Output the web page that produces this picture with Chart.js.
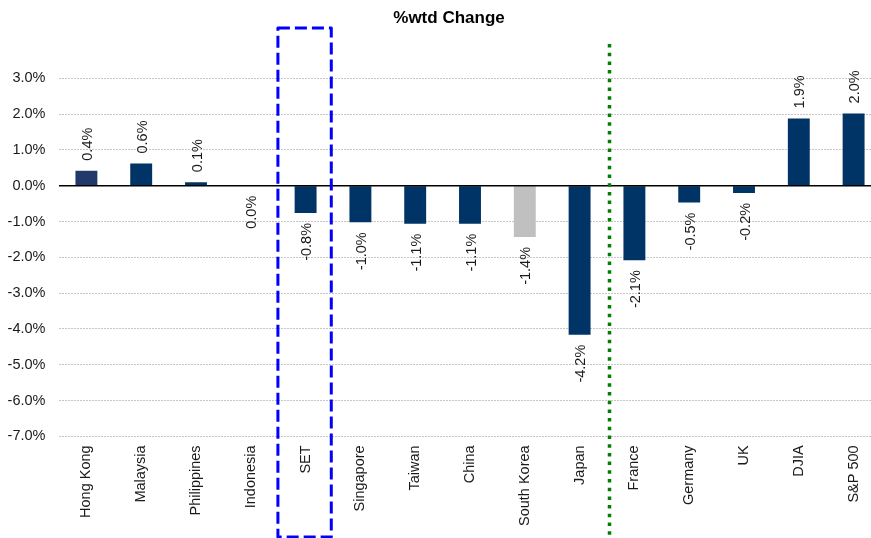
<!DOCTYPE html>
<html>
<head>
<meta charset="utf-8">
<title>%wtd Change</title>
<script src="https://cdn.jsdelivr.net/npm/chart.js@4.4.1/dist/chart.umd.min.js"></script>
<style>
  html, body { margin: 0; padding: 0; background: #ffffff; overflow: hidden; }
  #wrap { position: relative; width: 881px; height: 538px; }
</style>
</head>
<body>
<div id="wrap"><canvas id="chart"></canvas></div>
<script>
// Week-to-date change by market, in percent
const markets = ['Hong Kong', 'Malaysia', 'Philippines', 'Indonesia', 'SET', 'Singapore',
  'Taiwan', 'China', 'South Korea', 'Japan', 'France', 'Germany', 'UK', 'DJIA', 'S&P 500'];
const wtdChange = [0.42, 0.62, 0.10, 0.0, -0.76, -1.02, -1.06, -1.06, -1.43, -4.16,
  -2.08, -0.47, -0.20, 1.88, 2.02];
const barColors = ['#21386a', '#003366', '#003366', '#003366', '#003366', '#003366',
  '#003366', '#003366', '#c0c0c0', '#003366', '#003366', '#003366', '#003366', '#003366', '#003366'];
const yTicks = [3, 2, 1, 0, -1, -2, -3, -4, -5, -6, -7];
const chartTitle = '%wtd Change';

const FONT = '"Liberation Sans", Arial, "DejaVu Sans", sans-serif';
const fmt = v => v.toFixed(1) + '%';

// Title, rotated value labels, zero line, SET highlight box and region divider
const overlay = {
  id: 'overlay',
  afterDatasetsDraw(chart) {
    const { ctx, chartArea, scales: { x, y } } = chart;
    const meta = chart.getDatasetMeta(0);

    // title
    ctx.save();
    ctx.font = 'bold 17px ' + FONT;
    ctx.fillStyle = '#000000';
    ctx.textAlign = 'center';
    ctx.textBaseline = 'middle';
    ctx.fillText(chartTitle, chart.width / 2 + 8.5, 18.5);
    ctx.restore();

    // zero baseline
    const y0 = y.getPixelForValue(0);
    ctx.save();
    ctx.strokeStyle = '#000000';
    ctx.lineWidth = 1.5;
    ctx.beginPath();
    ctx.moveTo(chartArea.left, y0);
    ctx.lineTo(chart.width, y0);
    ctx.stroke();
    ctx.restore();

    // value labels
    ctx.save();
    ctx.font = '14.5px ' + FONT;
    ctx.fillStyle = '#1a1a1a';
    ctx.textBaseline = 'middle';
    meta.data.forEach((bar, i) => {
      const v = wtdChange[i];
      const gap = 10;
      ctx.save();
      ctx.translate(bar.x + 1.5, y.getPixelForValue(v) + (v > 0 ? -gap : gap));
      ctx.rotate(-Math.PI / 2);
      ctx.textAlign = v > 0 ? 'left' : 'right';
      ctx.fillText(fmt(v), 0, 0);
      ctx.restore();
    });
    ctx.restore();

    // dashed box around SET
    const step = x.getPixelForValue(1) - x.getPixelForValue(0);
    const cx = x.getPixelForValue(4) - 1;
    const half = step * 0.487;
    ctx.save();
    ctx.strokeStyle = '#0000ff';
    ctx.lineWidth = 3;
    ctx.setLineDash([12, 5]);
    ctx.lineJoin = 'round';
    ctx.beginPath();
    ctx.rect(cx - half, 28, half * 2, 509);
    ctx.stroke();
    ctx.restore();

    // dotted divider between Asia and Europe/US
    const dx = (x.getPixelForValue(9) + x.getPixelForValue(10)) / 2 + 2.5;
    ctx.save();
    ctx.strokeStyle = '#008000';
    ctx.lineWidth = 3.5;
    ctx.setLineDash([3.5, 5.2]);
    ctx.beginPath();
    ctx.moveTo(dx, 44);
    ctx.lineTo(dx, 538);
    ctx.stroke();
    ctx.restore();
  }
};

new Chart(document.getElementById('chart'), {
  type: 'bar',
  data: {
    labels: markets,
    datasets: [{
      data: wtdChange,
      backgroundColor: barColors,
      borderWidth: 0,
      barPercentage: 0.4,
      categoryPercentage: 1.0
    }]
  },
  options: {
    responsive: true,
    maintainAspectRatio: false,
    animation: false,
    layout: { padding: { left: 7, right: 0, top: 42.5, bottom: 3 } },
    plugins: {
      legend: { display: false },
      tooltip: { enabled: false },
      title: { display: false }
    },
    scales: {
      x: {
        grid: { display: false, drawTicks: false },
        border: { display: false },
        ticks: {
          autoSkip: false,
          minRotation: 90,
          maxRotation: 90,
          padding: 9,
          color: '#1a1a1a',
          font: { family: FONT, size: 14.5 }
        }
      },
      y: {
        min: -7,
        max: 4,
        afterBuildTicks(scale) {
          scale.ticks = yTicks.map(v => ({ value: v }));
        },
        afterFit(scale) {
          scale.width = 52;
        },
        grid: { color: '#c6c6c6', lineWidth: 1, drawTicks: false },
        border: { display: false, dash: [2, 1] },
        ticks: {
          padding: 13.5,
          color: '#1a1a1a',
          font: { family: FONT, size: 14.5 },
          callback: v => fmt(v)
        }
      }
    }
  },
  plugins: [overlay]
});
</script>
</body>
</html>
